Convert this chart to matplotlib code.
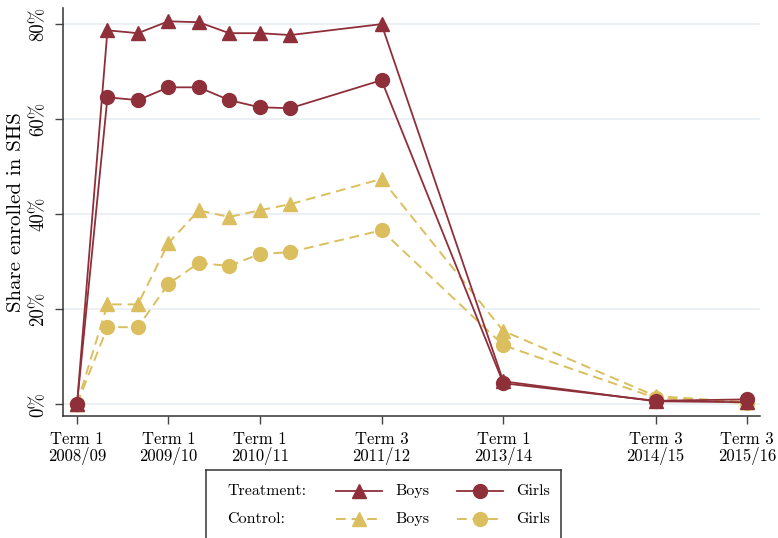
import matplotlib
matplotlib.use("Agg")
import matplotlib.pyplot as plt
from matplotlib.lines import Line2D

plt.rcParams['font.family'] = ['cmr10', 'DejaVu Serif']
plt.rcParams['axes.formatter.use_mathtext'] = True

# term index (position on the time axis) of each survey round
x_pos = [0, 1, 2, 3, 4, 5, 6, 7, 10, 14, 19, 22]

treat_boys = [0, 78.7, 78.1, 80.6, 80.4, 78.1, 78.1, 77.7, 80.0, 4.8, 0.6, 0.4]
treat_girls = [0, 64.6, 64.0, 66.7, 66.7, 64.0, 62.5, 62.3, 68.2, 4.4, 0.7, 1.0]
ctrl_boys = [0, 21.0, 21.0, 33.9, 40.8, 39.4, 40.8, 42.1, 47.4, 15.4, 1.7, 0.4]
ctrl_girls = [0, 16.2, 16.2, 25.3, 29.7, 29.1, 31.6, 32.0, 36.6, 12.4, 1.3, 0.2]

tick_pos = [0, 3, 6, 10, 14, 19, 22]
tick_labels = ['Term 1\n2008/09', 'Term 1\n2009/10', 'Term 1\n2010/11',
               'Term 3\n2011/12', 'Term 1\n2013/14', 'Term 3\n2014/15',
               'Term 3\n2015/16']
y_ticks = [0, 20, 40, 60, 80]

red = '#8f2f3a'
gold = '#dbbf5f'

fig = plt.figure(figsize=(7.78, 5.38), dpi=100)
ax = fig.add_axes([63 / 778, 122 / 538, 697 / 778, 408 / 538])

styles = {
    'tb': dict(color=red, marker='^', ms=10, lw=1.3, ls='-'),
    'tg': dict(color=red, marker='o', ms=10, lw=1.3, ls='-'),
    'cb': dict(color=gold, marker='^', ms=10, lw=1.4, ls=(0, (5, 3))),
    'cg': dict(color=gold, marker='o', ms=10, lw=1.4, ls=(0, (5, 3))),
}

ax.plot(x_pos, ctrl_girls, **styles['cg'], zorder=3)
ax.plot(x_pos, ctrl_boys, **styles['cb'], zorder=3)
ax.plot(x_pos, treat_girls, **styles['tg'], zorder=4)
ax.plot(x_pos, treat_boys, **styles['tb'], zorder=4)

ax.set_xlim(-0.46, 22.43)
ax.set_ylim(-2.5, 83.4)
ax.set_xticks(tick_pos)
ax.set_xticklabels(tick_labels, fontsize=12, linespacing=1.0)
ax.set_yticks(y_ticks)
ax.set_yticklabels([f'{v}%' for v in y_ticks], fontsize=13.5,
                   rotation=90, va='center')
ax.tick_params(axis='x', length=6, width=1, color='#444444', pad=5)
ax.tick_params(axis='y', length=6, width=1, color='#444444', pad=5)
ax.grid(axis='y', color='#e6eef2', lw=1.2)
ax.set_axisbelow(True)
for s in ['top', 'right']:
    ax.spines[s].set_visible(False)
for s in ['left', 'bottom']:
    ax.spines[s].set_color('#333333')
    ax.spines[s].set_linewidth(1.1)
ax.set_ylabel('Share enrolled in SHS', fontsize=15)
ax.yaxis.set_label_coords(-0.054, 0.5)

# legend box drawn by hand (row labels + two entries per row)
lax = fig.add_axes([206 / 778, -4 / 538, 355 / 778, 72 / 538])
lax.set_xlim(0, 355)
lax.set_ylim(72, 0)
lax.set_xticks([])
lax.set_yticks([])
for s in lax.spines.values():
    s.set_color('#333333')
    s.set_linewidth(1.1)

rows = [('Treatment:', 'tb', 'tg', 21), ('Control:', 'cb', 'cg', 49)]
for label, kb, kg, yy in rows:
    lax.text(21, yy, label, fontsize=11.5, va='center', ha='left')
    for key, x0, name in [(kb, 130, 'Boys'), (kg, 251, 'Girls')]:
        st = dict(styles[key])
        mk = st.pop('marker')
        ms = st.pop('ms')
        lax.add_line(Line2D([x0, x0 + 46], [yy, yy], **st))
        lax.add_line(Line2D([x0 + 23], [yy], marker=mk, ms=ms,
                            color=st['color'], ls='none'))
        lax.text(x0 + 59, yy, name, fontsize=11.5, va='center', ha='left')

fig.savefig('out.png', dpi=100)
